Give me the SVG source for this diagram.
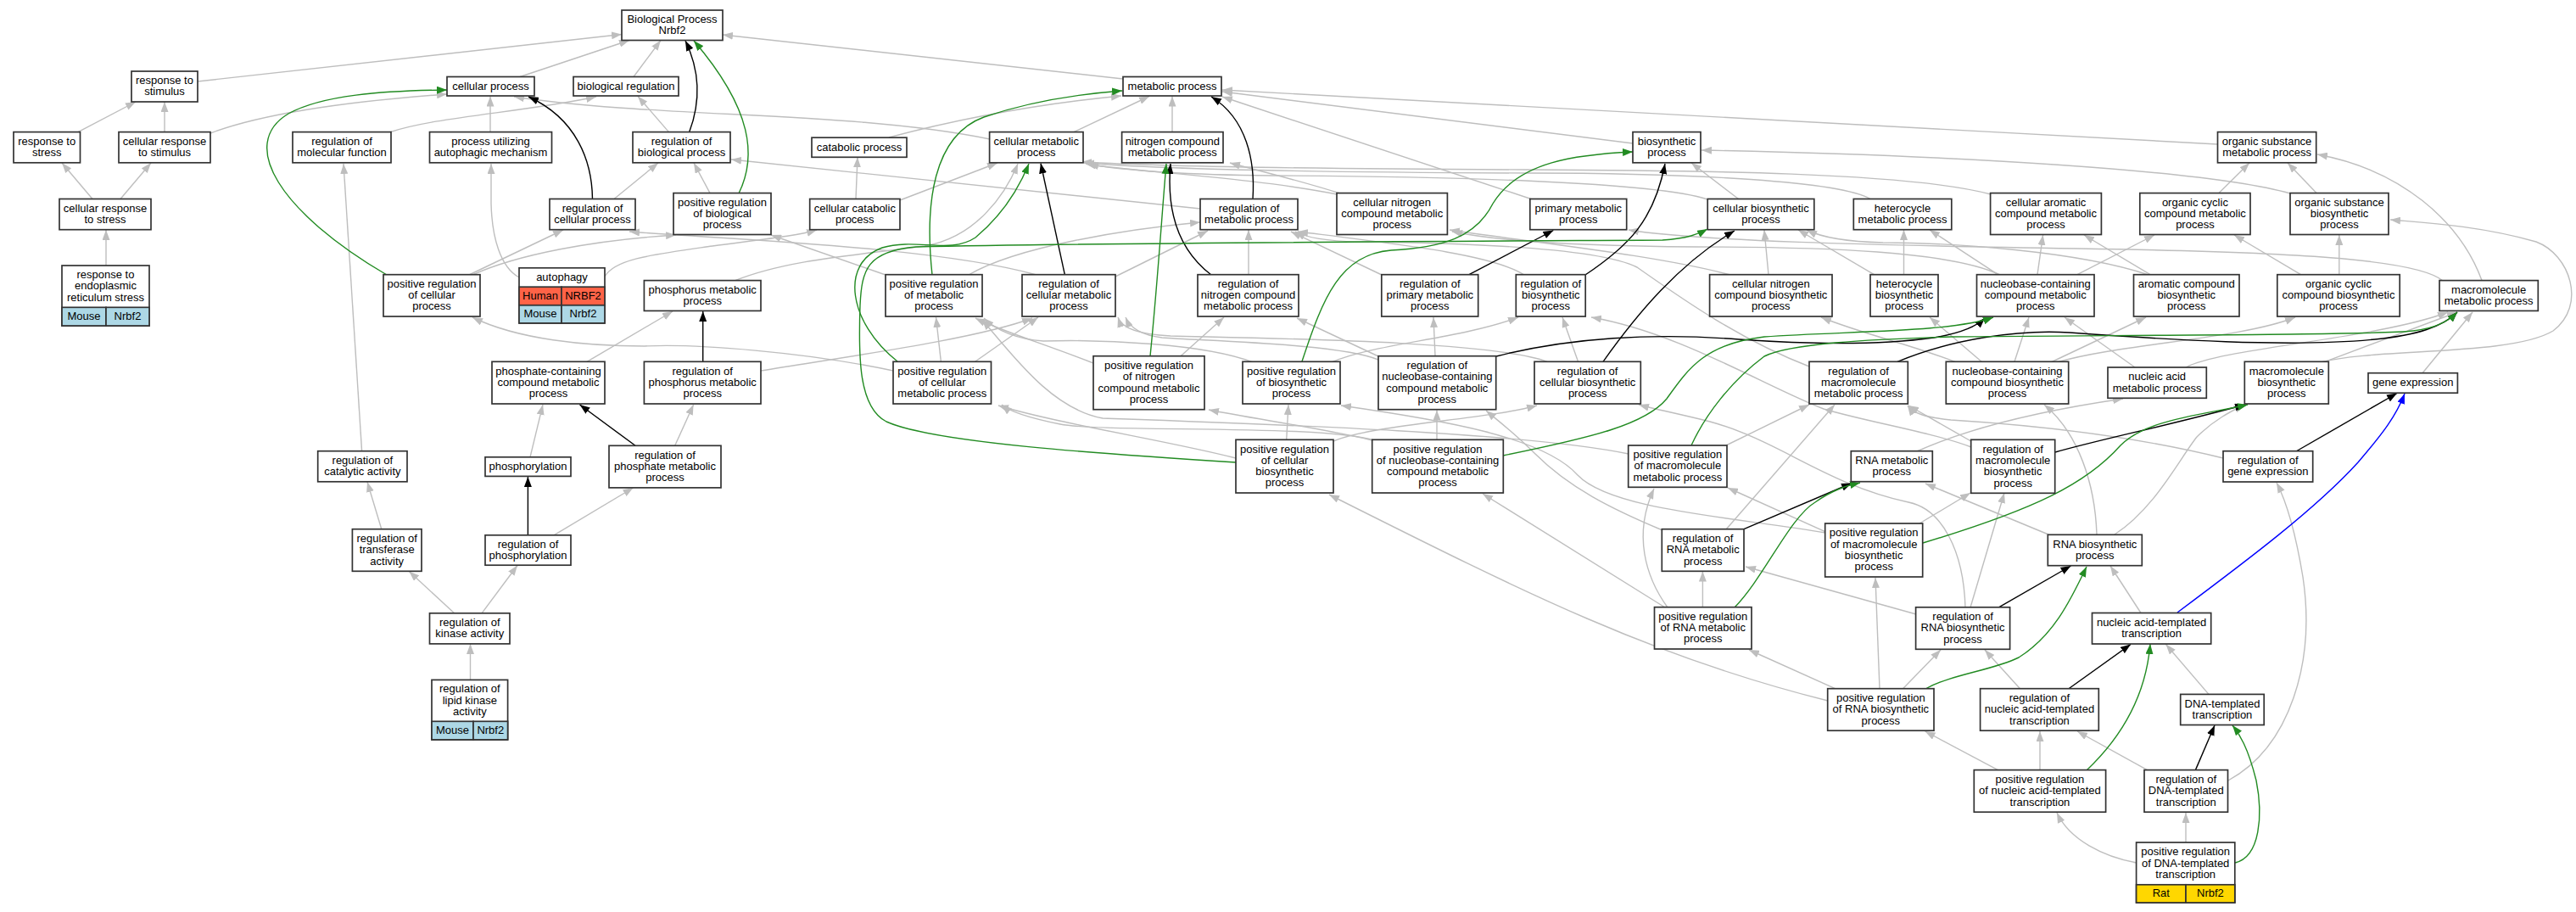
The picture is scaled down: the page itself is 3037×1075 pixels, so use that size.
<svg xmlns="http://www.w3.org/2000/svg" width="3037" height="1075" viewBox="0 0 3037 1075">
<style>
.node rect{fill:#fff;stroke:#333;stroke-width:1.7}
text{font-family:"Liberation Sans",Arial,Helvetica,sans-serif;font-size:13px;text-anchor:middle;fill:#000}
.e path{fill:none;stroke-width:1.4}
.g{stroke:#bebebe}
.k{stroke:#000}
.n{stroke:#228b22}
.b{stroke:#0000ff}
.e path.g{marker-end:url(#mg)}
.e path.k{marker-end:url(#mk)}
.e path.n{marker-end:url(#mn)}
.e path.b{marker-end:url(#mb)}
.red{fill:#ff6347 !important}
.blue{fill:#add8e6 !important}
.gold{fill:#ffd700 !important}
</style>
<defs>
<marker id="mg" markerWidth="12" markerHeight="9" refX="12" refY="4.5" orient="auto" markerUnits="userSpaceOnUse"><path d="M0,0 L12,4.5 L0,9 z" fill="#bebebe"/></marker>
<marker id="mk" markerWidth="12" markerHeight="9" refX="12" refY="4.5" orient="auto" markerUnits="userSpaceOnUse"><path d="M0,0 L12,4.5 L0,9 z" fill="#000"/></marker>
<marker id="mn" markerWidth="12" markerHeight="9" refX="12" refY="4.5" orient="auto" markerUnits="userSpaceOnUse"><path d="M0,0 L12,4.5 L0,9 z" fill="#228b22"/></marker>
<marker id="mb" markerWidth="12" markerHeight="9" refX="12" refY="4.5" orient="auto" markerUnits="userSpaceOnUse"><path d="M0,0 L12,4.5 L0,9 z" fill="#0000ff"/></marker>
</defs>
<rect x="0" y="0" width="3037" height="1075" fill="#fff"/>
<g id="edges" class="e">
<path class="g" d="M233,96 L733,40.5"/>
<path class="g" d="M613,90.5 L742,47.5"/>
<path class="g" d="M747,90.5 L779,47.5"/>
<path class="g" d="M1324,93 L852,41"/>
<path class="g" d="M92,155.6 L160,120"/>
<path class="g" d="M194,155.6 L194,120"/>
<path class="g" d="M248,157 C320,130 430,118 527,111"/>
<path class="g" d="M109,234.5 L73,192"/>
<path class="g" d="M142,234.5 L178,192"/>
<path class="g" d="M125,313 L125,271"/>
<path class="g" d="M459,156 C510,138 620,132 703,114"/>
<path class="g" d="M578,155.6 L578,113.5"/>
<path class="g" d="M724,234.5 L776,192"/>
<path class="g" d="M788.5,155.6 L752,113.5"/>
<path class="g" d="M837,227.6 L818,192"/>
<path class="g" d="M1167,164 C1000,130 780,140 606,114"/>
<path class="g" d="M1048,162 C1150,135 1250,120 1322,113"/>
<path class="g" d="M1266,155.6 L1355,113.5"/>
<path class="g" d="M1382,155.6 L1382,113.5"/>
<path class="g" d="M1925,169 L1441,108"/>
<path class="g" d="M1805,234.5 L1441,114"/>
<path class="g" d="M2614,170 L1441,106"/>
<path class="g" d="M1009,234.5 L1011,185.3"/>
<path class="g" d="M1061,236 L1176,192"/>
<path class="g" d="M1576,229 C1480,210 1350,203 1283,194"/>
<path class="g" d="M1580,228 C1530,212 1490,203 1450,192"/>
<path class="g" d="M2013,235 C1950,214 1700,208 1500,207 C1380,206 1320,200 1280,193"/>
<path class="g" d="M2049.6,234.5 L1994,192"/>
<path class="g" d="M2205,234.5 C2170,214 2000,204 1800,204 C1500,203 1350,198 1278,192"/>
<path class="g" d="M2347,229 C2250,203 2000,201 1800,200 C1500,199 1350,195 1275,191"/>
<path class="g" d="M2700,228 C2600,200 2300,183 2006,177"/>
<path class="g" d="M2731,227.6 L2697,192"/>
<path class="g" d="M2616,227.6 L2652,192"/>
<path class="g" d="M2926,330.6 C2900,260 2830,200 2732,182"/>
<path class="g" d="M2880,331 C2850,305 2700,297 2450,293 C2200,289 2000,284 1920,271"/>
<path class="g" d="M553,324 L664,271"/>
<path class="g" d="M557,324 C610,300 700,283 797,277"/>
<path class="g" d="M612,327 C590,315 580,280 579,240 L579,193"/>
<path class="g" d="M713,326 C725,305 770,300 840,290 C900,282 940,278 963,271"/>
<path class="g" d="M866,331 C930,305 1020,300 1090,290 C1150,280 1185,230 1200,193"/>
<path class="g" d="M1142,324 C1200,290 1330,270 1415,262"/>
<path class="g" d="M1044,324 L909,277"/>
<path class="g" d="M1315,326 L1424,272"/>
<path class="g" d="M1222,324 C1100,290 850,282 742,273"/>
<path class="g" d="M1472,323.7 L1472,271"/>
<path class="g" d="M1415,246 L862,188"/>
<path class="g" d="M1629,324 L1522,273"/>
<path class="g" d="M1797,324 C1760,300 1650,288 1530,273"/>
<path class="g" d="M2040,324 C1950,300 1800,285 1709,271"/>
<path class="g" d="M2085,323.7 L2080,271"/>
<path class="g" d="M2244.5,323.7 L2244.5,271"/>
<path class="g" d="M2209.5,323.7 L2120,271"/>
<path class="g" d="M2358,324 C2300,296 2150,291 2000,291 C1850,290 1760,283 1712,273"/>
<path class="g" d="M2355.5,323.7 L2275,271"/>
<path class="g" d="M2402,323.7 L2408.6,277"/>
<path class="g" d="M2449,323.7 L2540,277"/>
<path class="g" d="M2535,323.7 L2457,277"/>
<path class="g" d="M2533,324 C2450,296 2300,286 2220,286 C2180,285 2150,281 2130,271"/>
<path class="g" d="M2712.5,323.7 L2634,277"/>
<path class="g" d="M2757.8,323.7 L2757.8,277"/>
<path class="g" d="M692,426.3 L793,367"/>
<path class="g" d="M897,437 C1000,420 1150,400 1217,375"/>
<path class="g" d="M1053,437 C950,415 820,405 760,408 C690,408 610,400 557,374"/>
<path class="g" d="M1149.6,426.3 L1224,374"/>
<path class="g" d="M1109.4,426.3 L1103.5,374"/>
<path class="g" d="M1289,428 C1230,405 1180,390 1150,375"/>
<path class="g" d="M1392,419.7 L1443,374"/>
<path class="g" d="M1477,427 C1420,405 1300,400 1230,402 C1200,400 1175,390 1160,375"/>
<path class="g" d="M1570,427 C1620,405 1720,400 1790,374"/>
<path class="g" d="M1692,419.7 L1690,374"/>
<path class="g" d="M1625,420 L1529,375"/>
<path class="g" d="M1625,424 C1580,405 1420,402 1370,398 C1345,395 1332,386 1327,374"/>
<path class="g" d="M1824,426.3 C1760,402 1500,399 1380,396 C1340,394 1322,386 1318,374"/>
<path class="g" d="M1860.5,426.3 L1842,374"/>
<path class="g" d="M2133,432 C2050,400 1980,350 1930,315 C1880,290 1700,286 1600,285 C1560,284 1540,280 1527,273"/>
<path class="g" d="M2306,427 C2250,405 2200,395 2147,374"/>
<path class="g" d="M2337,427 L2275,374"/>
<path class="g" d="M2375,426.3 L2392,374"/>
<path class="g" d="M2418,427 L2530,374"/>
<path class="g" d="M2425,427 C2500,405 2640,400 2706,374"/>
<path class="g" d="M2517,433 L2434,374"/>
<path class="g" d="M2577,433 C2620,410 2800,400 2886,368"/>
<path class="g" d="M2741,426.3 L2897,368"/>
<path class="g" d="M2736,427 C2800,410 2960,420 3010,390 C3050,360 3030,300 2990,285 C2920,265 2850,262 2818,259"/>
<path class="g" d="M2856,439.7 L2915,368"/>
<path class="g" d="M426.6,531.7 L405,193"/>
<path class="g" d="M625,538.8 L640,477"/>
<path class="g" d="M795.7,525.3 L817.6,477"/>
<path class="g" d="M1516.7,518.3 L1519,477"/>
<path class="g" d="M1572,520 C1620,500 1750,495 1812,478"/>
<path class="g" d="M1457,540 C1380,520 1250,500 1177,478"/>
<path class="g" d="M1694,518.3 L1694,483.5"/>
<path class="g" d="M1618,519 C1560,505 1480,494 1425,483"/>
<path class="g" d="M1620,519 C1560,500 1300,510 1250,500 C1210,492 1190,485 1181,477"/>
<path class="g" d="M2035,525 L2133,477"/>
<path class="g" d="M1920,535 C1800,510 1500,500 1300,493 C1240,482 1195,420 1158,377"/>
<path class="g" d="M2260,532 C2320,505 2400,485 2503,470"/>
<path class="g" d="M2323.7,520 L2250,478"/>
<path class="g" d="M2324,527 C2280,510 2200,497 2150,482 C2080,455 1980,392 1876,374"/>
<path class="g" d="M2621,540 C2500,510 2380,500 2300,495 C2270,492 2255,487 2249,478"/>
<path class="g" d="M449.8,623.7 L433,568"/>
<path class="g" d="M653,630.8 L746.5,575"/>
<path class="g" d="M1966,716 C1940,680 1925,630 1950,576"/>
<path class="g" d="M1963,716 L1748,582"/>
<path class="g" d="M2007.4,715.8 L2007.4,673.5"/>
<path class="g" d="M1960,625 C1900,600 1850,575 1810,535 C1785,510 1765,495 1752,484"/>
<path class="g" d="M2035,624 L2163,477"/>
<path class="g" d="M2151.7,626.7 L2037,575"/>
<path class="g" d="M2263,617 L2323,581"/>
<path class="g" d="M2152,628 C2050,610 1900,602 1860,560 C1820,515 1700,495 1581,478"/>
<path class="g" d="M2415,630 L2270,570"/>
<path class="g" d="M2472,630 C2470,570 2450,510 2410,477"/>
<path class="g" d="M2493,630 C2540,600 2570,540 2590,515 C2610,495 2630,485 2646,477"/>
<path class="g" d="M2259,724 L2058,668"/>
<path class="g" d="M2317,716 C2315,650 2290,600 2250,592 C2150,570 2100,520 2016,497 C1980,488 1950,482 1932,477"/>
<path class="g" d="M2323,716 L2363,581"/>
<path class="g" d="M2524,722.5 L2488,667"/>
<path class="g" d="M554.5,801.4 L554.5,759"/>
<path class="g" d="M535.6,722.8 L482.3,673.5"/>
<path class="g" d="M568,722.8 L610,666.5"/>
<path class="g" d="M2155,826 C1950,775 1800,700 1567,583"/>
<path class="g" d="M2163.5,811.7 L2062,766"/>
<path class="g" d="M2216,811.7 L2211,681"/>
<path class="g" d="M2243.5,811.7 L2288,766"/>
<path class="g" d="M2381.5,811.7 L2340,766"/>
<path class="g" d="M2604,818.4 L2553.5,759.5"/>
<path class="g" d="M2405,907.6 L2405,862"/>
<path class="g" d="M2355.5,907.6 L2269.5,862"/>
<path class="g" d="M2531.6,907.6 L2449,862"/>
<path class="g" d="M2627,920 C2700,880 2730,780 2715,680 C2705,620 2695,590 2684,569"/>
<path class="g" d="M2577,993 L2577,958"/>
<path class="g" d="M2519,1017 C2480,1010 2440,990 2425,958"/>
<path class="k" d="M812.7,155.6 C826,120 826,85 808,48"/>
<path class="k" d="M698.5,234.5 C698,190 680,140 623,114"/>
<path class="k" d="M1477,234.5 C1480,190 1470,140 1428,114"/>
<path class="k" d="M1255.3,323.7 L1227,192.5"/>
<path class="k" d="M1428,324 C1390,295 1375,250 1380,193"/>
<path class="k" d="M828.7,426.3 L828.7,367"/>
<path class="k" d="M749,525.3 L683.5,477"/>
<path class="k" d="M622.4,630.8 L622.4,562"/>
<path class="k" d="M1732,323.7 L1831.4,271.5"/>
<path class="k" d="M1869,324 C1920,290 1950,260 1963,193"/>
<path class="k" d="M1890,426.3 C1930,370 1980,310 2045,272"/>
<path class="k" d="M1764,420 C1850,398 1950,392 2050,400 C2150,407 2230,405 2280,398 C2310,393 2330,385 2340,375"/>
<path class="k" d="M2237,426.3 C2300,400 2380,388 2440,392 C2550,400 2700,410 2800,400 C2850,395 2880,385 2897,368"/>
<path class="k" d="M2056,623.7 L2183,569.5"/>
<path class="k" d="M2423,533 C2480,517 2550,503 2647,477"/>
<path class="k" d="M2707,532 L2826,463.5"/>
<path class="k" d="M2356.5,715.8 L2441.5,667"/>
<path class="k" d="M2439,811.7 L2512,759.5"/>
<path class="k" d="M2588.4,907.6 L2611,855"/>
<path class="n" d="M871,228 C892,185 888,130 818,48"/>
<path class="n" d="M456,324 C330,250 280,170 340,134 C380,112 450,107 527,106"/>
<path class="n" d="M1099,324 C1090,240 1100,160 1160,138 C1210,121 1270,111 1323,107"/>
<path class="n" d="M1058,426 C1000,380 990,310 1040,292 C1080,280 1120,300 1150,280 C1180,255 1200,225 1213,193"/>
<path class="n" d="M1356,420 C1365,330 1370,250 1375,193"/>
<path class="n" d="M1535,426 C1560,350 1580,300 1640,295 C1700,292 1740,280 1760,240 C1790,190 1860,182 1925,179"/>
<path class="n" d="M1457,545 C1300,535 1100,522 1045,497 C1012,480 1012,420 1014,360 C1016,318 1022,296 1080,291 C1300,286 1800,284 1960,283 C1990,281 2002,276 2013,270"/>
<path class="n" d="M1772,537 C1880,515 1940,500 1965,470 C1990,435 2010,405 2080,397 C2180,390 2300,392 2350,374"/>
<path class="n" d="M1994,525 C2010,490 2040,450 2080,420 C2110,405 2200,400 2300,397 C2500,395 2800,395 2845,390 C2870,387 2885,380 2897,368"/>
<path class="n" d="M2045,716 C2080,680 2110,610 2140,592 C2160,578 2175,573 2193,569"/>
<path class="n" d="M2267,640 C2400,600 2460,570 2500,525 C2530,495 2590,490 2650,477"/>
<path class="n" d="M2270,812 C2300,795 2350,790 2380,775 C2420,750 2440,710 2460,668"/>
<path class="n" d="M2460,908 C2500,870 2530,820 2535,759"/>
<path class="n" d="M2635,1017 C2665,1010 2668,960 2660,920 C2650,880 2640,865 2632,855"/>
<path class="b" d="M2567,722 C2650,660 2730,600 2780,545 C2810,510 2825,490 2835,464"/>
</g>
<g id="nodes">
<g id="n1" class="node"><rect x="733" y="12" width="119" height="35.5"/><text><tspan x="792.5" y="26.9">Biological Process</tspan><tspan x="792.5" dy="13.3">Nrbf2</tspan></text></g>
<g id="n2" class="node"><rect x="155" y="84" width="78" height="36"/><text><tspan x="194" y="99.15">response to</tspan><tspan x="194" dy="13.3">stimulus</tspan></text></g>
<g id="n3" class="node"><rect x="527" y="90.5" width="103" height="22.5"/><text x="578.5" y="105.55">cellular process</text></g>
<g id="n4" class="node"><rect x="676" y="90.5" width="124" height="22.5"/><text x="738" y="105.55">biological regulation</text></g>
<g id="n24" class="node"><rect x="1324" y="90.5" width="116" height="22.5"/><text x="1382" y="105.55">metabolic process</text></g>
<g id="n5" class="node"><rect x="16" y="155.6" width="78.5" height="36.2"/><text><tspan x="55.25" y="170.85">response to</tspan><tspan x="55.25" dy="13.3">stress</tspan></text></g>
<g id="n6" class="node"><rect x="140" y="155.6" width="108" height="36.2"/><text><tspan x="194" y="170.85">cellular response</tspan><tspan x="194" dy="13.3">to stimulus</tspan></text></g>
<g id="n7" class="node"><rect x="345" y="155.6" width="116" height="36.2"/><text><tspan x="403" y="170.85">regulation of</tspan><tspan x="403" dy="13.3">molecular function</tspan></text></g>
<g id="n8" class="node"><rect x="506.5" y="155.6" width="144" height="36.2"/><text><tspan x="578.5" y="170.85">process utilizing</tspan><tspan x="578.5" dy="13.3">autophagic mechanism</tspan></text></g>
<g id="n22" class="node"><rect x="746" y="155.6" width="115" height="36.2"/><text><tspan x="803.5" y="170.85">regulation of</tspan><tspan x="803.5" dy="13.3">biological process</tspan></text></g>
<g id="n23" class="node"><rect x="957" y="162.2" width="112" height="23.1"/><text x="1013" y="177.55">catabolic process</text></g>
<g id="n25" class="node"><rect x="1166.6" y="155.6" width="110.4" height="36.2"/><text><tspan x="1221.8" y="170.85">cellular metabolic</tspan><tspan x="1221.8" dy="13.3">process</tspan></text></g>
<g id="n26" class="node"><rect x="1322.6" y="155.6" width="119.4" height="36.2"/><text><tspan x="1382.3" y="170.85">nitrogen compound</tspan><tspan x="1382.3" dy="13.3">metabolic process</tspan></text></g>
<g id="n41" class="node"><rect x="1925" y="155.6" width="80" height="36.2"/><text><tspan x="1965" y="170.85">biosynthetic</tspan><tspan x="1965" dy="13.3">process</tspan></text></g>
<g id="n58" class="node"><rect x="2614.5" y="155.6" width="116.2" height="36.2"/><text><tspan x="2672.6" y="170.85">organic substance</tspan><tspan x="2672.6" dy="13.3">metabolic process</tspan></text></g>
<g id="n9" class="node"><rect x="70" y="234.5" width="108" height="36.2"/><text><tspan x="124" y="249.75">cellular response</tspan><tspan x="124" dy="13.3">to stress</tspan></text></g>
<g id="n10" class="node"><rect x="648" y="234.5" width="101" height="36.2"/><text><tspan x="698.5" y="249.75">regulation of</tspan><tspan x="698.5" dy="13.3">cellular process</tspan></text></g>
<g id="n27" class="node"><rect x="794" y="227.6" width="115" height="48.9"/><text><tspan x="851.5" y="242.55">positive regulation</tspan><tspan x="851.5" dy="13.3">of biological</tspan><tspan x="851.5" dy="13.3">process</tspan></text></g>
<g id="n28" class="node"><rect x="954.7" y="234.5" width="106.3" height="36.2"/><text><tspan x="1007.85" y="249.75">cellular catabolic</tspan><tspan x="1007.85" dy="13.3">process</tspan></text></g>
<g id="n29" class="node"><rect x="1415" y="234.5" width="115" height="36.2"/><text><tspan x="1472.5" y="249.75">regulation of</tspan><tspan x="1472.5" dy="13.3">metabolic process</tspan></text></g>
<g id="n42" class="node"><rect x="1576" y="227.6" width="130.4" height="48.9"/><text><tspan x="1641.2" y="242.55">cellular nitrogen</tspan><tspan x="1641.2" dy="13.3">compound metabolic</tspan><tspan x="1641.2" dy="13.3">process</tspan></text></g>
<g id="n43" class="node"><rect x="1803.8" y="234.5" width="113.9" height="36.2"/><text><tspan x="1860.75" y="249.75">primary metabolic</tspan><tspan x="1860.75" dy="13.3">process</tspan></text></g>
<g id="n44" class="node"><rect x="2013.2" y="234.5" width="125.6" height="36.2"/><text><tspan x="2076" y="249.75">cellular biosynthetic</tspan><tspan x="2076" dy="13.3">process</tspan></text></g>
<g id="n45" class="node"><rect x="2185.3" y="234.5" width="115.5" height="36.2"/><text><tspan x="2243" y="249.75">heterocycle</tspan><tspan x="2243" dy="13.3">metabolic process</tspan></text></g>
<g id="n59" class="node"><rect x="2346.6" y="227.6" width="130.8" height="48.9"/><text><tspan x="2412" y="242.55">cellular aromatic</tspan><tspan x="2412" dy="13.3">compound metabolic</tspan><tspan x="2412" dy="13.3">process</tspan></text></g>
<g id="n60" class="node"><rect x="2522.8" y="227.6" width="130.2" height="48.9"/><text><tspan x="2587.9" y="242.55">organic cyclic</tspan><tspan x="2587.9" dy="13.3">compound metabolic</tspan><tspan x="2587.9" dy="13.3">process</tspan></text></g>
<g id="n61" class="node"><rect x="2700" y="227.6" width="116" height="48.9"/><text><tspan x="2758" y="242.55">organic substance</tspan><tspan x="2758" dy="13.3">biosynthetic</tspan><tspan x="2758" dy="13.3">process</tspan></text></g>
<g id="n11" class="node"><rect x="73" y="313" width="103" height="71"/><rect class="blue" x="73" y="362.3" width="52" height="21.7"/><rect class="blue" x="125" y="362.3" width="51" height="21.7"/><text><tspan x="124.5" y="328.15">response to</tspan><tspan x="124.5" dy="13.3">endoplasmic</tspan><tspan x="124.5" dy="13.3">reticulum stress</tspan></text><text x="99" y="377">Mouse</text><text x="150.5" y="377">Nrbf2</text></g>
<g id="n12" class="node"><rect x="452" y="323.7" width="114" height="49.3"/><text><tspan x="509" y="338.85">positive regulation</tspan><tspan x="509" dy="13.3">of cellular</tspan><tspan x="509" dy="13.3">process</tspan></text></g>
<g id="n13" class="node"><rect x="612" y="315.8" width="101" height="65.1"/><rect class="red" x="612" y="338.2" width="50" height="21.6"/><rect class="red" x="662" y="338.2" width="51" height="21.6"/><rect class="blue" x="612" y="359.8" width="50" height="21.1"/><rect class="blue" x="662" y="359.8" width="51" height="21.1"/><text x="662.5" y="330.8">autophagy</text><text x="637" y="352.8">Human</text><text x="687.5" y="352.8">NRBF2</text><text x="637" y="374.15">Mouse</text><text x="687.5" y="374.15">Nrbf2</text></g>
<g id="n30" class="node"><rect x="759.4" y="330.6" width="137.6" height="35.8"/><text><tspan x="828.2" y="345.65">phosphorus metabolic</tspan><tspan x="828.2" dy="13.3">process</tspan></text></g>
<g id="n31" class="node"><rect x="1044" y="323.7" width="114" height="49.3"/><text><tspan x="1101" y="338.85">positive regulation</tspan><tspan x="1101" dy="13.3">of metabolic</tspan><tspan x="1101" dy="13.3">process</tspan></text></g>
<g id="n32" class="node"><rect x="1205" y="323.7" width="110" height="49.3"/><text><tspan x="1260" y="338.85">regulation of</tspan><tspan x="1260" dy="13.3">cellular metabolic</tspan><tspan x="1260" dy="13.3">process</tspan></text></g>
<g id="n33" class="node"><rect x="1412" y="323.7" width="119" height="49.3"/><text><tspan x="1471.5" y="338.85">regulation of</tspan><tspan x="1471.5" dy="13.3">nitrogen compound</tspan><tspan x="1471.5" dy="13.3">metabolic process</tspan></text></g>
<g id="n46" class="node"><rect x="1628.8" y="323.7" width="113.9" height="49.3"/><text><tspan x="1685.75" y="338.85">regulation of</tspan><tspan x="1685.75" dy="13.3">primary metabolic</tspan><tspan x="1685.75" dy="13.3">process</tspan></text></g>
<g id="n47" class="node"><rect x="1787.3" y="323.7" width="81.9" height="49.3"/><text><tspan x="1828.25" y="338.85">regulation of</tspan><tspan x="1828.25" dy="13.3">biosynthetic</tspan><tspan x="1828.25" dy="13.3">process</tspan></text></g>
<g id="n48" class="node"><rect x="2015.6" y="323.7" width="144.4" height="49.3"/><text><tspan x="2087.8" y="338.85">cellular nitrogen</tspan><tspan x="2087.8" dy="13.3">compound biosynthetic</tspan><tspan x="2087.8" dy="13.3">process</tspan></text></g>
<g id="n49" class="node"><rect x="2205" y="323.7" width="80" height="49.3"/><text><tspan x="2245" y="338.85">heterocycle</tspan><tspan x="2245" dy="13.3">biosynthetic</tspan><tspan x="2245" dy="13.3">process</tspan></text></g>
<g id="n62" class="node"><rect x="2330.5" y="323.7" width="138.5" height="49.3"/><text><tspan x="2399.75" y="338.85">nucleobase-containing</tspan><tspan x="2399.75" dy="13.3">compound metabolic</tspan><tspan x="2399.75" dy="13.3">process</tspan></text></g>
<g id="n63" class="node"><rect x="2515.5" y="323.7" width="124.5" height="49.3"/><text><tspan x="2577.75" y="338.85">aromatic compound</tspan><tspan x="2577.75" dy="13.3">biosynthetic</tspan><tspan x="2577.75" dy="13.3">process</tspan></text></g>
<g id="n64" class="node"><rect x="2684.8" y="323.7" width="144.4" height="49.3"/><text><tspan x="2757" y="338.85">organic cyclic</tspan><tspan x="2757" dy="13.3">compound biosynthetic</tspan><tspan x="2757" dy="13.3">process</tspan></text></g>
<g id="n65" class="node"><rect x="2876" y="330.6" width="116.3" height="35.8"/><text><tspan x="2934.15" y="345.65">macromolecule</tspan><tspan x="2934.15" dy="13.3">metabolic process</tspan></text></g>
<g id="n14" class="node"><rect x="580" y="426.3" width="133" height="49.7"/><text><tspan x="646.5" y="441.65">phosphate-containing</tspan><tspan x="646.5" dy="13.3">compound metabolic</tspan><tspan x="646.5" dy="13.3">process</tspan></text></g>
<g id="n34" class="node"><rect x="759.4" y="426.3" width="137.6" height="49.7"/><text><tspan x="828.2" y="441.65">regulation of</tspan><tspan x="828.2" dy="13.3">phosphorus metabolic</tspan><tspan x="828.2" dy="13.3">process</tspan></text></g>
<g id="n35" class="node"><rect x="1053" y="426.3" width="115.5" height="49.7"/><text><tspan x="1110.75" y="441.65">positive regulation</tspan><tspan x="1110.75" dy="13.3">of cellular</tspan><tspan x="1110.75" dy="13.3">metabolic process</tspan></text></g>
<g id="n36" class="node"><rect x="1289" y="419.7" width="131" height="63"/><text><tspan x="1354.5" y="435.05">positive regulation</tspan><tspan x="1354.5" dy="13.3">of nitrogen</tspan><tspan x="1354.5" dy="13.3">compound metabolic</tspan><tspan x="1354.5" dy="13.3">process</tspan></text></g>
<g id="n37" class="node"><rect x="1465" y="426.3" width="115" height="49.7"/><text><tspan x="1522.5" y="441.65">positive regulation</tspan><tspan x="1522.5" dy="13.3">of biosynthetic</tspan><tspan x="1522.5" dy="13.3">process</tspan></text></g>
<g id="n39" class="node"><rect x="1625" y="419.7" width="138.7" height="63"/><text><tspan x="1694.35" y="435.05">regulation of</tspan><tspan x="1694.35" dy="13.3">nucleobase-containing</tspan><tspan x="1694.35" dy="13.3">compound metabolic</tspan><tspan x="1694.35" dy="13.3">process</tspan></text></g>
<g id="n50" class="node"><rect x="1809" y="426.3" width="125.3" height="49.7"/><text><tspan x="1871.65" y="441.65">regulation of</tspan><tspan x="1871.65" dy="13.3">cellular biosynthetic</tspan><tspan x="1871.65" dy="13.3">process</tspan></text></g>
<g id="n51" class="node"><rect x="2133" y="426.3" width="116.3" height="49.7"/><text><tspan x="2191.15" y="441.65">regulation of</tspan><tspan x="2191.15" dy="13.3">macromolecule</tspan><tspan x="2191.15" dy="13.3">metabolic process</tspan></text></g>
<g id="n66" class="node"><rect x="2294.3" y="426.3" width="144.4" height="49.7"/><text><tspan x="2366.5" y="441.65">nucleobase-containing</tspan><tspan x="2366.5" dy="13.3">compound biosynthetic</tspan><tspan x="2366.5" dy="13.3">process</tspan></text></g>
<g id="n67" class="node"><rect x="2485" y="433" width="116.3" height="36.3"/><text><tspan x="2543.15" y="448.3">nucleic acid</tspan><tspan x="2543.15" dy="13.3">metabolic process</tspan></text></g>
<g id="n68" class="node"><rect x="2646.3" y="426.3" width="99" height="49.7"/><text><tspan x="2695.8" y="441.65">macromolecule</tspan><tspan x="2695.8" dy="13.3">biosynthetic</tspan><tspan x="2695.8" dy="13.3">process</tspan></text></g>
<g id="n69" class="node"><rect x="2792" y="439.7" width="105.4" height="23.5"/><text x="2844.7" y="455.25">gene expression</text></g>
<g id="n15" class="node"><rect x="374.7" y="531.7" width="105.3" height="36.1"/><text><tspan x="427.35" y="546.9">regulation of</tspan><tspan x="427.35" dy="13.3">catalytic activity</tspan></text></g>
<g id="n16" class="node"><rect x="572" y="538.8" width="101" height="22.6"/><text x="622.5" y="553.9">phosphorylation</text></g>
<g id="n17" class="node"><rect x="718" y="525.3" width="132" height="49.6"/><text><tspan x="784" y="540.6">regulation of</tspan><tspan x="784" dy="13.3">phosphate metabolic</tspan><tspan x="784" dy="13.3">process</tspan></text></g>
<g id="n38" class="node"><rect x="1457" y="518.3" width="115" height="62.7"/><text><tspan x="1514.5" y="533.5">positive regulation</tspan><tspan x="1514.5" dy="13.3">of cellular</tspan><tspan x="1514.5" dy="13.3">biosynthetic</tspan><tspan x="1514.5" dy="13.3">process</tspan></text></g>
<g id="n40" class="node"><rect x="1617.7" y="518.3" width="154.6" height="62.7"/><text><tspan x="1695" y="533.5">positive regulation</tspan><tspan x="1695" dy="13.3">of nucleobase-containing</tspan><tspan x="1695" dy="13.3">compound metabolic</tspan><tspan x="1695" dy="13.3">process</tspan></text></g>
<g id="n52" class="node"><rect x="1919.7" y="525" width="116.3" height="49.3"/><text><tspan x="1977.85" y="540.15">positive regulation</tspan><tspan x="1977.85" dy="13.3">of macromolecule</tspan><tspan x="1977.85" dy="13.3">metabolic process</tspan></text></g>
<g id="n53" class="node"><rect x="2182.3" y="531.7" width="96" height="36"/><text><tspan x="2230.3" y="546.85">RNA metabolic</tspan><tspan x="2230.3" dy="13.3">process</tspan></text></g>
<g id="n70" class="node"><rect x="2323.7" y="518.3" width="99" height="63"/><text><tspan x="2373.2" y="533.65">regulation of</tspan><tspan x="2373.2" dy="13.3">macromolecule</tspan><tspan x="2373.2" dy="13.3">biosynthetic</tspan><tspan x="2373.2" dy="13.3">process</tspan></text></g>
<g id="n71" class="node"><rect x="2621" y="531.7" width="105.7" height="36.3"/><text><tspan x="2673.85" y="547">regulation of</tspan><tspan x="2673.85" dy="13.3">gene expression</tspan></text></g>
<g id="n18" class="node"><rect x="415.4" y="623.7" width="81.6" height="49.6"/><text><tspan x="456.2" y="639">regulation of</tspan><tspan x="456.2" dy="13.3">transferase</tspan><tspan x="456.2" dy="13.3">activity</tspan></text></g>
<g id="n19" class="node"><rect x="572" y="630.8" width="101" height="35.4"/><text><tspan x="622.5" y="645.65">regulation of</tspan><tspan x="622.5" dy="13.3">phosphorylation</tspan></text></g>
<g id="n54" class="node"><rect x="1959.3" y="623.7" width="96.7" height="49.6"/><text><tspan x="2007.65" y="639">regulation of</tspan><tspan x="2007.65" dy="13.3">RNA metabolic</tspan><tspan x="2007.65" dy="13.3">process</tspan></text></g>
<g id="n55" class="node"><rect x="2151.7" y="617" width="115" height="63"/><text><tspan x="2209.2" y="632.35">positive regulation</tspan><tspan x="2209.2" dy="13.3">of macromolecule</tspan><tspan x="2209.2" dy="13.3">biosynthetic</tspan><tspan x="2209.2" dy="13.3">process</tspan></text></g>
<g id="n72" class="node"><rect x="2414.3" y="630.3" width="111" height="36.4"/><text><tspan x="2469.8" y="645.65">RNA biosynthetic</tspan><tspan x="2469.8" dy="13.3">process</tspan></text></g>
<g id="n20" class="node"><rect x="506.5" y="722.8" width="94.5" height="36.1"/><text><tspan x="553.75" y="738">regulation of</tspan><tspan x="553.75" dy="13.3">kinase activity</tspan></text></g>
<g id="n56" class="node"><rect x="1950.5" y="715.7" width="114.5" height="49.3"/><text><tspan x="2007.75" y="730.85">positive regulation</tspan><tspan x="2007.75" dy="13.3">of RNA metabolic</tspan><tspan x="2007.75" dy="13.3">process</tspan></text></g>
<g id="n73" class="node"><rect x="2258.6" y="715.8" width="111" height="49.5"/><text><tspan x="2314.1" y="730.95">regulation of</tspan><tspan x="2314.1" dy="13.3">RNA biosynthetic</tspan><tspan x="2314.1" dy="13.3">process</tspan></text></g>
<g id="n74" class="node"><rect x="2466.5" y="722.5" width="140.2" height="36.5"/><text><tspan x="2536.6" y="737.9">nucleic acid-templated</tspan><tspan x="2536.6" dy="13.3">transcription</tspan></text></g>
<g id="n21" class="node"><rect x="509" y="801.4" width="89.6" height="70.5"/><rect class="blue" x="509" y="850.3" width="49" height="21.6"/><rect class="blue" x="558" y="850.3" width="40.6" height="21.6"/><text><tspan x="553.8" y="816.35">regulation of</tspan><tspan x="553.8" dy="13.3">lipid kinase</tspan><tspan x="553.8" dy="13.3">activity</tspan></text><text x="533.5" y="864.9">Mouse</text><text x="578.3" y="864.9">Nrbf2</text></g>
<g id="n57" class="node"><rect x="2154.7" y="811.7" width="125.3" height="49.5"/><text><tspan x="2217.35" y="826.95">positive regulation</tspan><tspan x="2217.35" dy="13.3">of RNA biosynthetic</tspan><tspan x="2217.35" dy="13.3">process</tspan></text></g>
<g id="n75" class="node"><rect x="2334.6" y="811.7" width="139.7" height="49.5"/><text><tspan x="2404.45" y="826.95">regulation of</tspan><tspan x="2404.45" dy="13.3">nucleic acid-templated</tspan><tspan x="2404.45" dy="13.3">transcription</tspan></text></g>
<g id="n76" class="node"><rect x="2570.7" y="818.4" width="98.5" height="36.1"/><text><tspan x="2619.95" y="833.6">DNA-templated</tspan><tspan x="2619.95" dy="13.3">transcription</tspan></text></g>
<g id="n77" class="node"><rect x="2327.3" y="907.6" width="155.3" height="49.6"/><text><tspan x="2404.95" y="922.9">positive regulation</tspan><tspan x="2404.95" dy="13.3">of nucleic acid-templated</tspan><tspan x="2404.95" dy="13.3">transcription</tspan></text></g>
<g id="n78" class="node"><rect x="2528" y="907.6" width="98.5" height="49.6"/><text><tspan x="2577.25" y="922.9">regulation of</tspan><tspan x="2577.25" dy="13.3">DNA-templated</tspan><tspan x="2577.25" dy="13.3">transcription</tspan></text></g>
<g id="n79" class="node"><rect x="2518.6" y="993" width="116.2" height="71"/><rect class="gold" x="2518.6" y="1042.8" width="58.4" height="21.2"/><rect class="gold" x="2577" y="1042.8" width="57.8" height="21.2"/><text><tspan x="2576.7" y="1008.4">positive regulation</tspan><tspan x="2576.7" dy="13.3">of DNA-templated</tspan><tspan x="2576.7" dy="13.3">transcription</tspan></text><text x="2547.8" y="1057.2">Rat</text><text x="2605.9" y="1057.2">Nrbf2</text></g>
</g>
</svg>
